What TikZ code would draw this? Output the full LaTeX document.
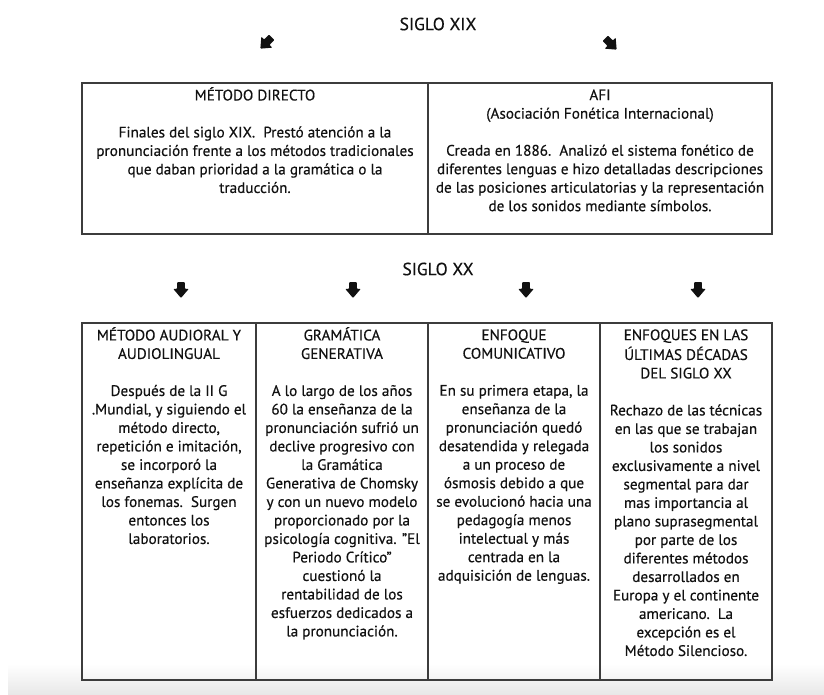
\documentclass[tikz,border=0pt]{standalone}
\usepackage{fontspec}
\setmainfont{PT Sans}
\newfontfamily\textfam[FakeBold=0.35]{PT Sans}
\definecolor{inkcol}{HTML}{111111}
\definecolor{rulecol}{HTML}{3C3C3C}
\newcommand\cellfont{\textfam\fontsize{15.2}{18.5}\selectfont}
\newcommand\titlefont{\textfam\fontsize{17.6}{20}\selectfont}
\tikzset{
  cell/.style={draw=rulecol, line width=1.2pt, rectangle, anchor=north west,
    inner sep=0pt, outer sep=0pt},
  celltext/.style={anchor=north, align=center, inner sep=0pt, font=\cellfont,
    text=inkcol},
  heading/.style={inner sep=0pt, font=\titlefont, text=inkcol},
  bigarrow/.pic={
    \fill[inkcol, rounded corners=0.8pt]
      (-3.8,-8) -- (3.8,-8) -- (3.8,-1.2) -- (7.8,-1.2) -- (0,8)
      -- (-7.8,-1.2) -- (-3.8,-1.2) -- cycle;
  }
}
\begin{document}
\begin{tikzpicture}[x=1pt,y=-1pt]
  \useasboundingbox (0,0) rectangle (824,694);
  \fill[white] (0,0) rectangle (824,694);
  % soft grey band along the lower edge
  \shade[top color=white, bottom color=black!9] (8,664) rectangle (824,694);

  % nineteenth century
  \node[heading] (s19) at (438,24) {SIGLO XIX};
  \pic[rotate=-45] (a19l) at (266,43) {bigarrow};
  \pic[rotate=45] (a19r) at (611,44) {bigarrow};

  \node[cell, minimum width=346pt, minimum height=151pt] (md) at (82,83) {};
  \node[cell, minimum width=344pt, minimum height=151pt] (afi) at (428,83) {};

  \node[celltext] (mdtxt) at ([yshift=-4pt]md.north) {\strut MÉTODO DIRECTO\\[18.5pt]
    Finales del siglo XIX.\ \ Prestó atención a la\\
    pronunciación frente a los métodos tradicionales\\
    que daban prioridad a la gramática o la\\
    traducción.};
  \node[celltext] (afitxt) at ([yshift=-4pt]afi.north) {\strut AFI\\
    (Asociación Fonética Internacional)\\[18.5pt]
    Creada en 1886.\ \ Analizó el sistema fonético de\\
    diferentes lenguas e hizo detalladas descripciones\\
    de las posiciones articulatorias y la representación\\
    de los sonidos mediante símbolos.};

  % twentieth century
  \node[heading] (s20) at (438,269) {SIGLO XX};
  \pic (a20a) at (181,290) {bigarrow};
  \pic (a20b) at (353,290) {bigarrow};
  \pic (a20c) at (526,290) {bigarrow};
  \pic (a20d) at (698,290) {bigarrow};

  \node[cell, minimum width=174pt, minimum height=357pt] (aud) at (82,323) {};
  \node[cell, minimum width=172pt, minimum height=357pt] (gram) at (256,323) {};
  \node[cell, minimum width=172pt, minimum height=357pt] (com) at (428,323) {};
  \node[cell, minimum width=172pt, minimum height=357pt] (ult) at (600,323) {};

  \node[celltext] (audtxt) at ([yshift=-4pt]aud.north) {\strut MÉTODO AUDIORAL Y\\
    AUDIOLINGUAL\\[18.5pt]
    Después de la II G\\
    .Mundial, y siguiendo el\\
    método directo,\\
    repetición e imitación,\\
    se incorporó la\\
    enseñanza explícita de\\
    los fonemas.\ \ Surgen\\
    entonces los\\
    laboratorios.};
  \node[celltext] (gramtxt) at ([yshift=-4pt]gram.north) {\strut GRAMÁTICA\\
    GENERATIVA\\[18.5pt]
    A lo largo de los años\\
    60 la enseñanza de la\\
    pronunciación sufrió un\\
    declive progresivo con\\
    la Gramática\\
    Generativa de Chomsky\\
    y con un nuevo modelo\\
    proporcionado por la\\
    psicología cognitiva. ”El\\
    Periodo Crítico”\\
    cuestionó la\\
    rentabilidad de los\\
    esfuerzos dedicados a\\
    la pronunciación.};
  \node[celltext] (comtxt) at ([yshift=-4pt]com.north) {\strut ENFOQUE\\
    COMUNICATIVO\\[18.5pt]
    En su primera etapa, la\\
    enseñanza de la\\
    pronunciación quedó\\
    desatendida y relegada\\
    a un proceso de\\
    ósmosis debido a que\\
    se evolucionó hacia una\\
    pedagogía menos\\
    intelectual y más\\
    centrada en la\\
    adquisición de lenguas.};
  \node[celltext] (ulttxt) at ([yshift=-4pt]ult.north) {\strut ENFOQUES EN LAS\\
    ÚLTIMAS DÉCADAS\\
    DEL SIGLO XX\\[18.5pt]
    Rechazo de las técnicas\\
    en las que se trabajan\\
    los sonidos\\
    exclusivamente a nivel\\
    segmental para dar\\
    mas importancia al\\
    plano suprasegmental\\
    por parte de los\\
    diferentes métodos\\
    desarrollados en\\
    Europa y el continente\\
    americano.\ \ La\\
    excepción es el\\
    Método Silencioso.};
\end{tikzpicture}
\end{document}
